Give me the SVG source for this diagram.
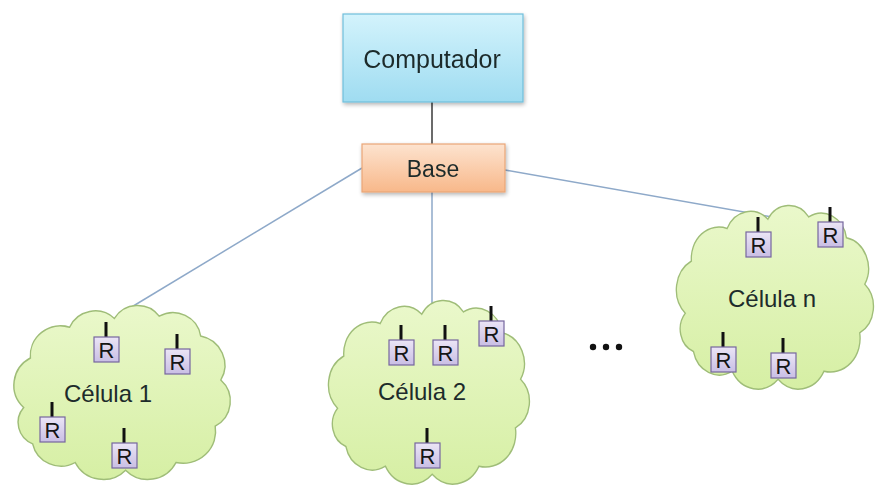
<svg xmlns="http://www.w3.org/2000/svg" xmlns:xlink="http://www.w3.org/1999/xlink" width="878" height="487" viewBox="0 0 878 487">
<style>
text{font-family:"Liberation Sans",Arial,sans-serif;fill:#1d2b2b;text-anchor:middle}
.cloud{fill:url(#gCloud);stroke:#9fbd78;stroke-width:1.3}
.conn{fill:none;stroke:#8ea9c9;stroke-width:1.5}
.rbox{fill:url(#gR);stroke:#76669e;stroke-width:1.2}
.stem{stroke:#111;stroke-width:3}
.rt{font-size:22px;fill:#151515}
</style>
<defs>
<linearGradient id="gComp" x1="0" y1="0" x2="0" y2="1"><stop offset="0" stop-color="#d3f3fc"/><stop offset="1" stop-color="#9fdcf1"/></linearGradient>
<linearGradient id="gBase" x1="0" y1="0" x2="0" y2="1"><stop offset="0" stop-color="#fde3cf"/><stop offset="1" stop-color="#f8b88a"/></linearGradient>
<linearGradient id="gCloud" x1="0" y1="0" x2="0" y2="1"><stop offset="0" stop-color="#eaf8cb"/><stop offset="1" stop-color="#d6efa4"/></linearGradient>
<linearGradient id="gR" x1="0" y1="0" x2="0" y2="1"><stop offset="0" stop-color="#ebe5f6"/><stop offset="1" stop-color="#c9bee4"/></linearGradient>
<filter id="sh" x="-10%" y="-10%" width="130%" height="140%"><feGaussianBlur in="SourceAlpha" stdDeviation="2"/><feOffset dx="1" dy="2"/><feComponentTransfer><feFuncA type="linear" slope="0.3"/></feComponentTransfer><feMerge><feMergeNode/><feMergeNode in="SourceGraphic"/></feMerge></filter>
<path id="cloudShape" d="M14,95 A28,28 0 0 1 20,50 A27,27 0 0 1 55,22 A25,25 0 0 1 95,14 A24,24 0 0 1 135,12 A25,25 0 0 1 172,30 A27,27 0 0 1 190,70 A26,26 0 0 1 185,112 A29,29 0 0 1 150,145 A28,28 0 0 1 105,152 A28,28 0 0 1 60,145 A26,26 0 0 1 22,128 A21,21 0 0 1 14,95 Z"/>
<g id="rnode">
<line class="stem" x1="12" y1="-15" x2="12" y2="0"/>
<rect class="rbox" x="0" y="0" width="25" height="25"/>
<text class="rt" x="12.5" y="21">R</text>
</g>
</defs>
<rect width="878" height="487" fill="#ffffff"/>

<g id="connectors">
<line x1="432" y1="102" x2="432" y2="144" stroke="#3a3a3a" stroke-width="1.5"/>
<line class="conn" x1="362" y1="168" x2="120" y2="314"/>
<line class="conn" x1="432" y1="192" x2="432" y2="313"/>
<line class="conn" x1="505" y1="170" x2="778" y2="218"/>
</g>

<g id="computador" filter="url(#sh)">
<rect x="343" y="14" width="180" height="88" fill="url(#gComp)" stroke="#71bedb" stroke-width="1.2"/>
<text x="432" y="68" font-size="25">Computador</text>
</g>

<g id="base" filter="url(#sh)">
<rect x="362" y="144" width="143" height="48" fill="url(#gBase)" stroke="#e9a677" stroke-width="1.2"/>
<text x="433" y="177" font-size="23">Base</text>
</g>

<g id="celula1">
<use href="#cloudShape" class="cloud" transform="translate(8,303) scale(1.12,1.1)"/>
<text x="108" y="402" font-size="24">Célula 1</text>
<use href="#rnode" transform="translate(94,337)"/>
<use href="#rnode" transform="translate(165,349)"/>
<use href="#rnode" transform="translate(40,417)"/>
<use href="#rnode" transform="translate(112,443)"/>
</g>

<g id="celula2">
<use href="#cloudShape" class="cloud" transform="translate(323,298) scale(1.04,1.16)"/>
<text x="422" y="400" font-size="24">Célula 2</text>
<use href="#rnode" transform="translate(389,340)"/>
<use href="#rnode" transform="translate(433,340)"/>
<use href="#rnode" transform="translate(479,321)"/>
<use href="#rnode" transform="translate(415,443)"/>
</g>

<g id="celulan">
<use href="#cloudShape" class="cloud" transform="translate(671,203) scale(1.02,1.16)"/>
<text x="772" y="307" font-size="24">Célula n</text>
<use href="#rnode" transform="translate(746,232)"/>
<use href="#rnode" transform="translate(818,222)"/>
<use href="#rnode" transform="translate(711,347)"/>
<use href="#rnode" transform="translate(771,353)"/>
</g>

<g id="ellipsis">
<circle cx="593" cy="347" r="3.2" fill="#111"/>
<circle cx="606" cy="347" r="3.2" fill="#111"/>
<circle cx="619" cy="347" r="3.2" fill="#111"/>
</g>
</svg>
